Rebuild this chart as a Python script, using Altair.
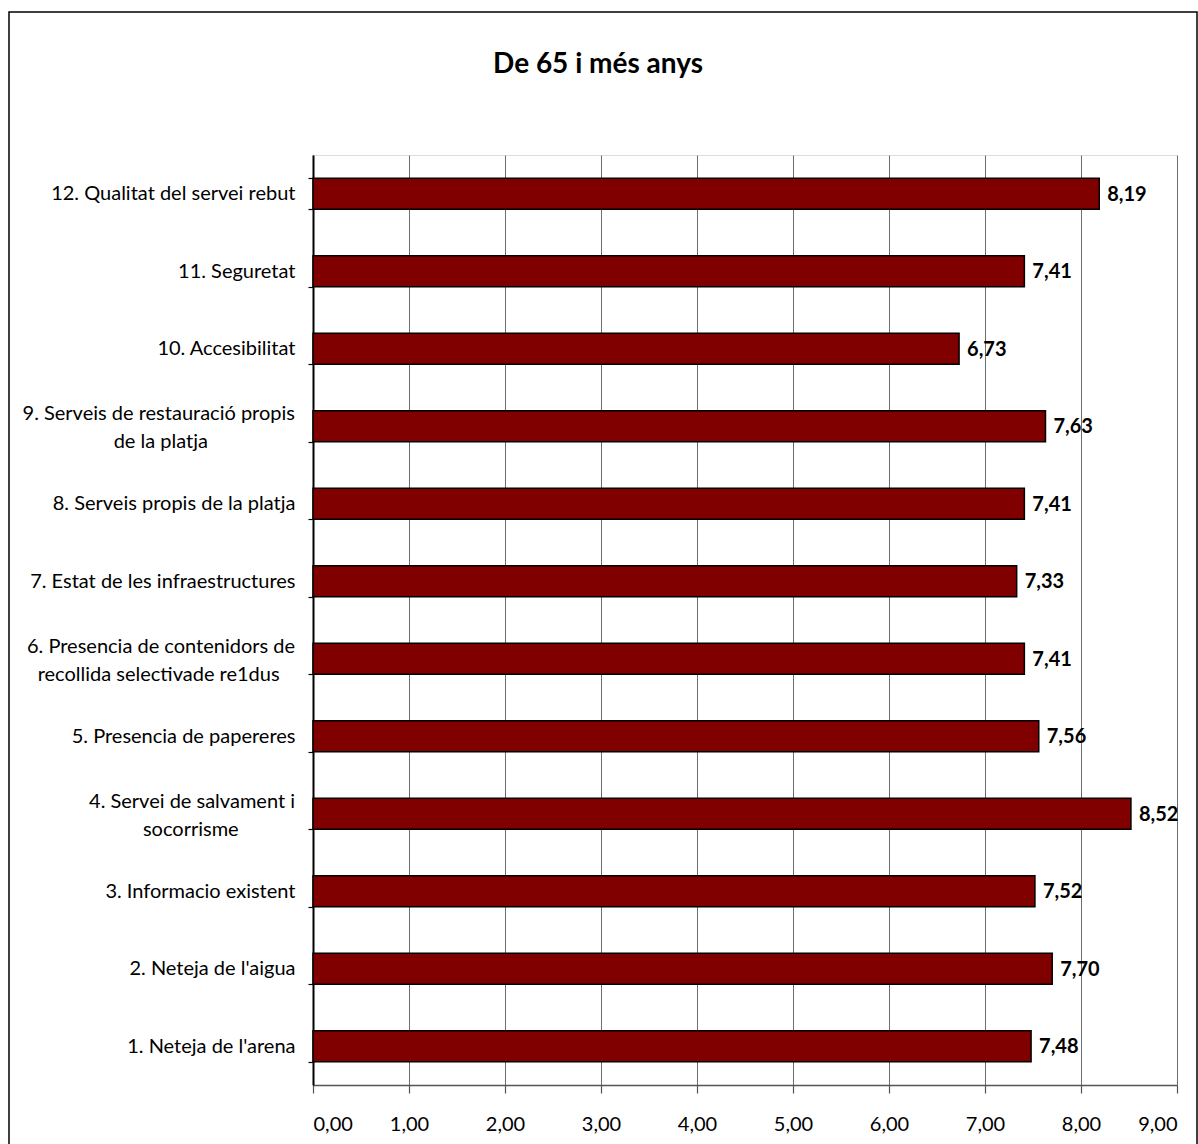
import altair as alt
import pandas as pd

NB = "\u00a0"
ZW = "\u200b"

# Data (item 1 .. 12)
categories = [
    "1. Neteja de l'arena",
    "2. Neteja de l'aigua",
    "3. Informacio existent",
    "4. Servei de salvament i|socorrisme",
    "5. Presencia de papereres",
    "6. Presencia de contenidors de|recollida selectivade re1dus",
    "7. Estat de les infraestructures",
    "8. Serveis propis de la platja",
    "9. Serveis de restauració propis|de la platja",
    "10. Accesibilitat",
    "11. Seguretat",
    "12. Qualitat del servei rebut",
]
values = [7.48, 7.70, 7.52, 8.52, 7.56, 7.41, 7.33, 7.41, 7.63, 6.73, 7.41, 8.19]
title_text = "De 65 i més anys"

# trailing non-breaking spaces to visually centre the second line of wrapped labels
second_line_pad = {3: 11, 5: 3, 8: 17}

display = []
for i, c in enumerate(categories):
    if "|" in c and i in second_line_pad:
        a, b = c.split("|")
        c = a + "|" + b + NB * second_line_pad[i] + ZW
    display.append(c)

df = pd.DataFrame({"cat": display, "value": values})
order = list(reversed(display))

FONT = "Lato"

y_enc = alt.Y(
    "cat:N",
    sort=order,
    title=None,
    scale=alt.Scale(paddingInner=0.6, paddingOuter=0.3),
    axis=alt.Axis(
        labelExpr="indexof(datum.label, '|') >= 0 ? '' : datum.label",
        labelFont=FONT,
        labelFontSize=20,
        labelColor="#000000",
        labelPadding=13,
        labelAlign="right",
        labelBaseline="middle",
        labelLimit=400,
        tickBand="extent",
        tickSize=5,
        tickColor="#000000",
        tickWidth=1.2,
        domainColor="#000000",
        domainWidth=2,
        grid=False,
    ),
)

x_enc = alt.X(
    "value:Q",
    title=None,
    scale=alt.Scale(domain=[0, 9], nice=False, zero=True),
    axis=alt.Axis(
        values=[0, 1, 2, 3, 4, 5, 6, 7, 8, 9],
        labelExpr="replace(format(datum.value, '.2f'), '.', ',')",
        labelFont=FONT,
        labelFontSize=20,
        labelColor="#000000",
        labelPadding=21,
        tickSize=8,
        tickColor="#555555",
        tickWidth=1.2,
        domainColor="#555555",
        domainWidth=1.5,
        grid=True,
        gridColor="#6e6e6e",
        gridWidth=1,
    ),
)

base = alt.Chart(df)

bars = base.mark_bar(fill="#800000", stroke="#000000", strokeWidth=1.5).encode(
    x=x_enc, y=y_enc
)

labels = base.transform_calculate(
    lbl="replace(format(datum.value, '.2f'), '.', ',')"
).mark_text(
    align="left", baseline="middle", dx=8, dy=1, font=FONT, fontSize=20,
    fontWeight="bold", color="#000000"
).encode(
    x=alt.X("value:Q"), y=alt.Y("cat:N", sort=order), text="lbl:N"
)

# wrapped category labels (two lines, vertically centred on their bar)
wrapped = base.transform_filter(
    "indexof(datum.cat, '|') >= 0"
).mark_text(
    align="right", baseline="middle", dy=-12, font=FONT, fontSize=20,
    color="#000000", lineBreak="|", lineHeight=28
).encode(
    x=alt.value(-18), y=alt.Y("cat:N", sort=order), text="cat:N"
)

frame = alt.Chart(pd.DataFrame({"k": [0]})).mark_rect(
    fill="transparent", stroke="#000000", strokeWidth=1.5
).encode(
    x=alt.value(-304), x2=alt.value(884), y=alt.value(-143), y2=alt.value(1000)
)

title = alt.Chart(pd.DataFrame({"t": [title_text]})).mark_text(
    font=FONT, fontSize=28, fontWeight="bold", color="#000000",
    align="center", baseline="middle"
).encode(
    text="t:N", x=alt.value(285), y=alt.value(-90)
)

chart = alt.layer(frame, bars, labels, wrapped, title).properties(
    width=864,
    height=930,
    autosize=alt.AutoSizeParams(type="none"),
    padding={"left": 313, "top": 155, "right": 21, "bottom": 59},
).configure_view(
    fill="#FFFFCC", stroke="#808080", strokeWidth=2
).configure(background="#FFFFFF")

chart.save("out.html", embed_options={"renderer": "svg", "actions": False})
